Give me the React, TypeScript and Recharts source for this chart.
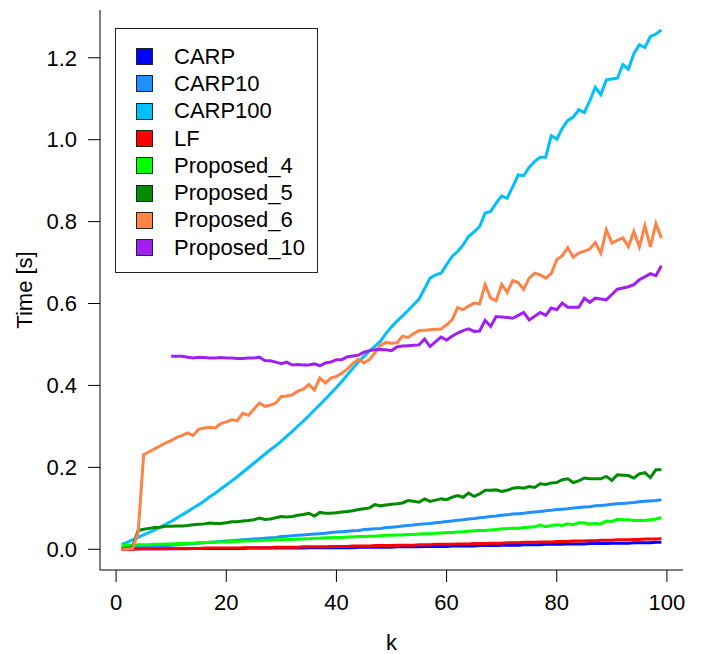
import { LineChart, Line, XAxis, YAxis, Label } from "recharts";

// k = 1..99
const kValues = Array.from({ length: 99 }, (_, i) => i + 1);

const carp = [
  0.000, 0.000, 0.001, 0.001, 0.001, 0.001, 0.001, 0.001, 0.001, 0.001,
  0.001, 0.001, 0.001, 0.002, 0.002, 0.002, 0.002, 0.002, 0.002, 0.002,
  0.002, 0.002, 0.002, 0.003, 0.003, 0.003, 0.003, 0.003, 0.003, 0.003,
  0.003, 0.003, 0.003, 0.003, 0.004, 0.004, 0.004, 0.004, 0.004, 0.004,
  0.004, 0.004, 0.004, 0.005, 0.005, 0.005, 0.005, 0.005, 0.005, 0.005,
  0.006, 0.006, 0.006, 0.006, 0.006, 0.007, 0.007, 0.007, 0.007, 0.007,
  0.008, 0.008, 0.008, 0.008, 0.008, 0.009, 0.009, 0.009, 0.009, 0.010,
  0.010, 0.010, 0.010, 0.011, 0.011, 0.011, 0.011, 0.012, 0.012, 0.012,
  0.012, 0.013, 0.013, 0.013, 0.013, 0.014, 0.014, 0.014, 0.014, 0.015,
  0.015, 0.015, 0.015, 0.016, 0.016, 0.016, 0.016, 0.017, 0.017,
];

const carp10 = [
  0.003, 0.004, 0.004, 0.005, 0.006, 0.007, 0.007, 0.008, 0.009, 0.010,
  0.011, 0.012, 0.013, 0.014, 0.015, 0.016, 0.017, 0.018, 0.019, 0.020,
  0.021, 0.022, 0.023, 0.024, 0.025, 0.026, 0.027, 0.028, 0.029, 0.031,
  0.032, 0.033, 0.034, 0.035, 0.036, 0.037, 0.038, 0.039, 0.041, 0.042,
  0.043, 0.044, 0.045, 0.046, 0.048, 0.049, 0.050, 0.051, 0.053, 0.054,
  0.055, 0.057, 0.058, 0.059, 0.061, 0.062, 0.063, 0.065, 0.066, 0.068,
  0.069, 0.071, 0.072, 0.074, 0.075, 0.077, 0.078, 0.080, 0.081, 0.083,
  0.084, 0.086, 0.087, 0.088, 0.090, 0.091, 0.092, 0.094, 0.095, 0.097,
  0.098, 0.099, 0.101, 0.102, 0.103, 0.104, 0.106, 0.107, 0.108, 0.110,
  0.111, 0.112, 0.113, 0.114, 0.116, 0.117, 0.118, 0.119, 0.121,
];

const carp100 = [
  0.012, 0.017, 0.023, 0.029, 0.035, 0.041, 0.047, 0.054, 0.061, 0.068,
  0.076, 0.084, 0.092, 0.101, 0.109, 0.118, 0.128, 0.137, 0.147, 0.157,
  0.167, 0.177, 0.188, 0.199, 0.210, 0.221, 0.232, 0.243, 0.253, 0.264,
  0.276, 0.288, 0.301, 0.313, 0.326, 0.340, 0.353, 0.367, 0.381, 0.395,
  0.410, 0.426, 0.442, 0.458, 0.471, 0.484, 0.496, 0.508, 0.527, 0.543,
  0.557, 0.570, 0.583, 0.597, 0.611, 0.636, 0.662, 0.670, 0.674, 0.695,
  0.715, 0.727, 0.743, 0.764, 0.775, 0.788, 0.821, 0.825, 0.845, 0.863,
  0.857, 0.885, 0.914, 0.912, 0.933, 0.947, 0.957, 0.957, 1.010, 1.001,
  1.028, 1.047, 1.055, 1.073, 1.066, 1.095, 1.128, 1.110, 1.146, 1.148,
  1.150, 1.183, 1.172, 1.210, 1.232, 1.225, 1.252, 1.258, 1.268,
];

const lf = [
  0.000, 0.000, 0.000, 0.001, 0.001, 0.001, 0.001, 0.001, 0.001, 0.002,
  0.002, 0.002, 0.002, 0.002, 0.002, 0.003, 0.003, 0.003, 0.003, 0.003,
  0.003, 0.003, 0.004, 0.004, 0.004, 0.004, 0.004, 0.004, 0.005, 0.005,
  0.005, 0.005, 0.005, 0.006, 0.006, 0.006, 0.006, 0.006, 0.007, 0.007,
  0.007, 0.007, 0.008, 0.008, 0.008, 0.008, 0.009, 0.009, 0.009, 0.009,
  0.010, 0.010, 0.010, 0.010, 0.011, 0.011, 0.011, 0.012, 0.012, 0.012,
  0.012, 0.013, 0.013, 0.013, 0.014, 0.014, 0.014, 0.015, 0.015, 0.015,
  0.016, 0.016, 0.016, 0.017, 0.017, 0.017, 0.018, 0.018, 0.018, 0.019,
  0.019, 0.019, 0.020, 0.020, 0.020, 0.021, 0.021, 0.022, 0.022, 0.022,
  0.023, 0.023, 0.023, 0.024, 0.024, 0.025, 0.025, 0.025, 0.026,
];

const proposed4 = [
  0.009, 0.010, 0.010, 0.011, 0.011, 0.011, 0.012, 0.012, 0.013, 0.013,
  0.014, 0.014, 0.015, 0.015, 0.016, 0.016, 0.017, 0.017, 0.018, 0.018,
  0.019, 0.019, 0.020, 0.020, 0.021, 0.021, 0.022, 0.022, 0.023, 0.023,
  0.024, 0.024, 0.025, 0.025, 0.026, 0.027, 0.027, 0.028, 0.028, 0.029,
  0.029, 0.030, 0.030, 0.031, 0.031, 0.032, 0.032, 0.033, 0.034, 0.034,
  0.035, 0.035, 0.036, 0.036, 0.037, 0.038, 0.038, 0.039, 0.040, 0.041,
  0.041, 0.042, 0.043, 0.044, 0.045, 0.046, 0.046, 0.047, 0.048, 0.050,
  0.050, 0.052, 0.051, 0.053, 0.054, 0.055, 0.059, 0.055, 0.058, 0.060,
  0.058, 0.062, 0.060, 0.065, 0.064, 0.062, 0.063, 0.062, 0.069, 0.068,
  0.073, 0.072, 0.072, 0.070, 0.071, 0.070, 0.072, 0.074, 0.077,
];

const proposed5 = [
  0.002, 0.003, 0.005, 0.046, 0.049, 0.051, 0.053, 0.054, 0.056, 0.056,
  0.057, 0.057, 0.058, 0.060, 0.061, 0.062, 0.064, 0.063, 0.063, 0.065,
  0.067, 0.067, 0.069, 0.070, 0.072, 0.076, 0.073, 0.074, 0.077, 0.080,
  0.079, 0.080, 0.083, 0.085, 0.088, 0.081, 0.090, 0.088, 0.088, 0.089,
  0.091, 0.092, 0.094, 0.097, 0.099, 0.101, 0.109, 0.106, 0.108, 0.110,
  0.111, 0.113, 0.119, 0.117, 0.115, 0.123, 0.117, 0.120, 0.123, 0.121,
  0.127, 0.131, 0.127, 0.137, 0.129, 0.135, 0.144, 0.144, 0.145, 0.141,
  0.144, 0.149, 0.151, 0.149, 0.153, 0.151, 0.160, 0.158, 0.162, 0.163,
  0.170, 0.172, 0.163, 0.167, 0.174, 0.172, 0.172, 0.172, 0.178, 0.168,
  0.182, 0.181, 0.180, 0.174, 0.184, 0.187, 0.175, 0.194, 0.194,
];

const proposed6 = [
  0.000, 0.000, 0.002, 0.040, 0.231, 0.238, 0.245, 0.252, 0.260, 0.265,
  0.273, 0.278, 0.284, 0.278, 0.293, 0.296, 0.298, 0.296, 0.307, 0.311,
  0.316, 0.314, 0.332, 0.327, 0.342, 0.357, 0.349, 0.352, 0.357, 0.373,
  0.374, 0.377, 0.386, 0.391, 0.402, 0.389, 0.418, 0.406, 0.418, 0.422,
  0.430, 0.440, 0.454, 0.464, 0.455, 0.463, 0.480, 0.498, 0.505, 0.503,
  0.504, 0.520, 0.517, 0.526, 0.534, 0.535, 0.536, 0.537, 0.538, 0.548,
  0.560, 0.590, 0.585, 0.594, 0.601, 0.599, 0.646, 0.613, 0.607, 0.647,
  0.627, 0.656, 0.651, 0.635, 0.662, 0.674, 0.670, 0.662, 0.673, 0.707,
  0.717, 0.736, 0.713, 0.723, 0.728, 0.733, 0.749, 0.723, 0.780, 0.748,
  0.754, 0.760, 0.739, 0.776, 0.738, 0.790, 0.738, 0.795, 0.760,
];

// Proposed_10 only starts at k = 10
const proposed10Start = 10;
const proposed10 = [
  0.471, 0.471, 0.471, 0.469, 0.467, 0.469, 0.468, 0.467, 0.467, 0.468,
  0.467, 0.467, 0.466, 0.466, 0.467, 0.467, 0.469, 0.461, 0.460, 0.457,
  0.453, 0.457, 0.450, 0.451, 0.450, 0.450, 0.453, 0.448, 0.455, 0.457,
  0.463, 0.463, 0.470, 0.472, 0.474, 0.481, 0.485, 0.487, 0.488, 0.487,
  0.485, 0.494, 0.496, 0.497, 0.498, 0.499, 0.513, 0.495, 0.507, 0.518,
  0.511, 0.520, 0.528, 0.534, 0.538, 0.532, 0.533, 0.559, 0.544, 0.568,
  0.567, 0.566, 0.564, 0.571, 0.578, 0.560, 0.569, 0.578, 0.571, 0.589,
  0.585, 0.601, 0.591, 0.591, 0.591, 0.613, 0.603, 0.613, 0.611, 0.609,
  0.622, 0.635, 0.638, 0.641, 0.646, 0.658, 0.665, 0.673, 0.668, 0.692,
];

const xTicks = [0, 20, 40, 60, 80, 100];
const yTicks = [0, 0.2, 0.4, 0.6, 0.8, 1.0, 1.2];

const series = [
  { key: "CARP", color: "#0000FF" },
  { key: "CARP10", color: "#1E90FF" },
  { key: "CARP100", color: "#00BFFF" },
  { key: "LF", color: "#FF0000" },
  { key: "Proposed_4", color: "#00FF00" },
  { key: "Proposed_5", color: "#008B00" },
  { key: "Proposed_6", color: "#FF8247" },
  { key: "Proposed_10", color: "#A020F0" },
];

const data = kValues.map((k, i) => ({
  k,
  CARP: carp[i],
  CARP10: carp10[i],
  CARP100: carp100[i],
  LF: lf[i],
  Proposed_4: proposed4[i],
  Proposed_5: proposed5[i],
  Proposed_6: proposed6[i],
  Proposed_10: k >= proposed10Start ? proposed10[k - proposed10Start] : null,
}));

const FONT = "'Liberation Sans', Arial, Helvetica, sans-serif";
const tickStyle = { fill: "#000", fontSize: 22, fontFamily: FONT };

export default function App() {
  return (
    <div style={{ position: "absolute", left: 0, top: 0, width: 704, height: 654, background: "#fff" }}>
      <LineChart
        width={704}
        height={654}
        data={data}
        margin={{ top: 10, right: 21, left: 0, bottom: 0 }}
      >
        <XAxis
          type="number"
          dataKey="k"
          domain={[-2.92, 102.92]}
          ticks={xTicks}
          allowDataOverflow
          height={84}
          tickSize={12}
          tickMargin={12}
          tick={tickStyle}
          stroke="#000"
          tickLine={{ stroke: "#000" }}
        >
          <Label
            value="k"
            position="insideBottom"
            offset={4}
            style={{ fontSize: 22, fontFamily: FONT, fill: "#000" }}
          />
        </XAxis>
        <XAxis xAxisId="top" orientation="top" type="number" domain={[-2.92, 102.92]} height={0} tick={false} tickLine={false} stroke="#000" />
        <YAxis
          type="number"
          domain={[-0.0506, 1.3166]}
          ticks={yTicks}
          allowDataOverflow
          width={100}
          tickSize={12}
          tickMargin={11}
          tick={tickStyle}
          tickFormatter={(v: number) => v.toFixed(1)}
          stroke="#000"
          tickLine={{ stroke: "#000" }}
        >
          <Label
            value="Time [s]"
            angle={-90}
            position="insideLeft"
            offset={24}
            style={{ fontSize: 22, fontFamily: FONT, fill: "#000", textAnchor: "middle" }}
          />
        </YAxis>
        <YAxis yAxisId="right" orientation="right" type="number" domain={[0, 1]} width={0} tick={false} tickLine={false} stroke="#000" />
        {series.map((s) => (
          <Line
            key={s.key}
            type="linear"
            dataKey={s.key}
            stroke={s.color}
            strokeWidth={3}
            dot={false}
            isAnimationActive={false}
          />
        ))}
      </LineChart>

      <div
        style={{
          position: "absolute", left: 115, top: 28, width: 203, height: 245,
          boxSizing: "border-box", border: "1px solid #222", background: "#fff",
          paddingTop: 14, fontFamily: FONT, fontSize: 22, color: "#000",
        }}
      >
        {series.map((s) => (
          <div key={s.key} style={{ display: "flex", alignItems: "center", height: 27.3 }}>
            <span style={{
              display: "inline-block", width: 17, height: 17, marginLeft: 20,
              boxSizing: "border-box", border: "1px solid #222", background: s.color,
            }} />
            <span style={{ marginLeft: 21, lineHeight: "22px" }}>{s.key}</span>
          </div>
        ))}
      </div>
    </div>
  );
}
